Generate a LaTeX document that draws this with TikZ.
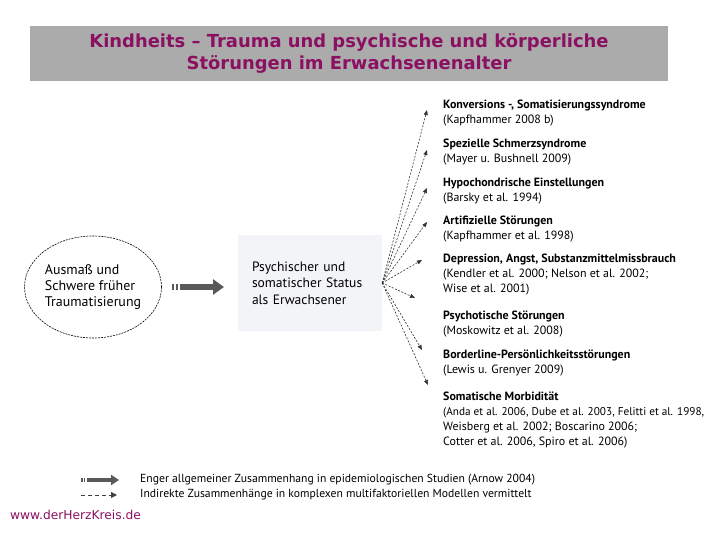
\documentclass[tikz,border=0pt]{standalone}
\usepackage{fontspec}
\setmainfont{PT Sans}
\newfontfamily\titlefont{DejaVu Sans}
\usetikzlibrary{arrows.meta,shapes.geometric}
\definecolor{herzpurple}{RGB}{139,16,98}
\definecolor{titlegray}{RGB}{171,171,171}
\definecolor{statusbg}{RGB}{243,244,248}

\begin{document}
\begin{tikzpicture}[x=1bp, y=-1bp,
  font=\fontsize{12}{15}\selectfont,
  effect/.style={anchor=north west, align=left, inner sep=0pt},
  fan/.style={draw=black!80, line width=0.6bp, dash pattern=on 2bp off 1.5bp,
              -{Triangle[length=5bp, width=4bp]}},
  fat/.style={draw=black!65, line width=6bp,
              dash pattern=on 2bp off 1.5bp on 2bp off 2bp on 300bp off 1bp,
              -{Triangle[length=11bp, width=15bp]}},
  legdash/.style={draw=black!75, line width=1bp, dash pattern=on 4bp off 3bp,
              -{Triangle[length=6bp, width=6bp]}}
]
\useasboundingbox (0,0) rectangle (720,540);

% title bar
\node[fill=titlegray, minimum width=638bp, minimum height=55bp, inner sep=0pt,
      align=center, text=herzpurple, font=\titlefont\bfseries\fontsize{18}{22}\selectfont]
  (title) at (349,53.5) {Kindheits – Trauma und psychische und körperliche\\ Störungen im Erwachsenenalter};

% cause and status
\node[draw, ellipse, dash pattern=on 2bp off 1bp, line width=0.6bp,
      minimum width=137bp, minimum height=102bp, align=left, inner sep=0pt,
      font=\fontsize{14}{16.5}\selectfont]
  (cause) at (93,287) {Ausmaß und\\ Schwere früher\\ Traumatisierung};
\node[fill=statusbg, minimum width=144bp, minimum height=95bp, align=left,
      text width=116bp, inner sep=0pt, font=\fontsize{13.6}{16.5}\selectfont]
  (status) at (310,283) {Psychischer und\\ somatischer Status\\ als Erwachsener};

\coordinate (fa) at (172,287);
\coordinate (fb) at (224,287);
\draw[fat] (fa) -- (fb);

% effects
\node[effect] (k1) at (443,100) {\textbf{Konversions -, Somatisierungssyndrome}\\ (Kapfhammer 2008 b)};
\node[effect] (k2) at (443,139) {\textbf{Spezielle Schmerzsyndrome}\\ (Mayer u. Bushnell 2009)};
\node[effect] (k3) at (443,178) {\textbf{Hypochondrische Einstellungen}\\ (Barsky et al. 1994)};
\node[effect] (k4) at (443,216) {\textbf{Artifizielle Störungen}\\ (Kapfhammer et al. 1998)};
\node[effect] (k5) at (443,254) {\textbf{Depression, Angst, Substanzmittelmissbrauch}\\ (Kendler et al. 2000; Nelson et al. 2002;\\ Wise et al. 2001)};
\node[effect] (k6) at (443,311) {\textbf{Psychotische Störungen}\\ (Moskowitz et al. 2008)};
\node[effect] (k7) at (443,350) {\textbf{Borderline-Persönlichkeitsstörungen}\\ (Lewis u. Grenyer 2009)};
\node[effect] (k8) at (443,392) {\textbf{Somatische Morbidität}\\ {\fontsize{11.3}{15}\selectfont(Anda et al. 2006, Dube et al. 2003, Felitti et al. 1998,}\\ Weisberg et al. 2002; Boscarino 2006;\\ Cotter et al. 2006, Spiro et al. 2006)};

\coordinate (t1) at (427,110);
\coordinate (t2) at (427,150);
\coordinate (t3) at (427,188);
\coordinate (t4) at (427,222);
\coordinate (t5) at (422,260);
\coordinate (t6) at (415,298);
\coordinate (t7) at (422,350);
\coordinate (t8) at (428,385);
\foreach \t in {t1,t2,t3,t4,t5,t6,t7,t8}
  \draw[fan] (status.east) -- (\t);

% legend
\coordinate (la) at (81,480);
\coordinate (lb) at (119,480);
\coordinate (lc) at (81,495);
\coordinate (ld) at (117,495);
\draw[fat, line width=4bp, dash pattern=on 1.5bp off 1.2bp on 1.5bp off 1.5bp on 300bp off 1bp,
      -{Triangle[length=8bp, width=10bp]}] (la) -- (lb);
\draw[legdash] (lc) -- (ld);
\node[anchor=west, inner sep=0pt, font=\fontsize{11.7}{14}\selectfont] (leg1) at (140,480)
  {Enger allgemeiner Zusammenhang in epidemiologischen Studien (Arnow 2004)};
\node[anchor=west, inner sep=0pt, font=\fontsize{11.7}{14}\selectfont] (leg2) at (140,495)
  {Indirekte Zusammenhänge in komplexen multifaktoriellen Modellen vermittelt};

\node[anchor=west, inner sep=0pt, text=herzpurple, font=\titlefont\fontsize{12.3}{14}\selectfont]
  (web) at (10,515) {www.derHerzKreis.de};
\end{tikzpicture}
\end{document}
